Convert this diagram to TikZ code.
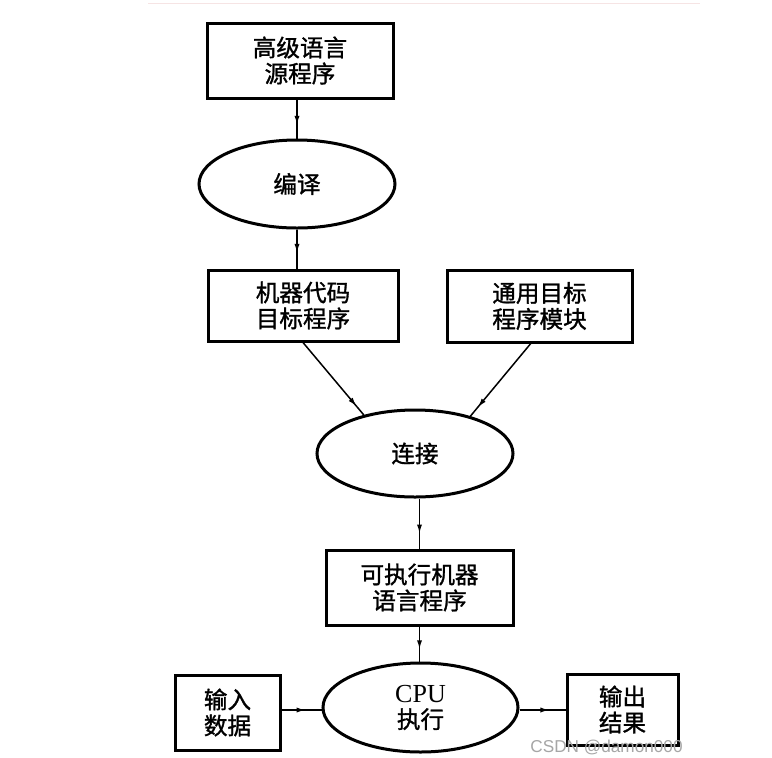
\documentclass[tikz,border=0pt]{standalone}
\usepackage{fontspec}
\setmainfont{Liberation Serif}
\newfontfamily\cjk[FakeBold=1.2]{Noto Sans CJK SC}
\newfontfamily\wmfont{Liberation Sans}
\usetikzlibrary{shapes.geometric,arrows.meta,decorations.markings}
\begin{document}
\begin{tikzpicture}[x=0.5pt,y=-0.5pt,
  boxnode/.style={draw, line width=1.5pt, rectangle, inner sep=0pt, align=center,
    font=\cjk\fontsize{11.8}{13}\selectfont},
  ellnode/.style={draw, line width=1.5pt, ellipse, inner sep=0pt, align=center,
    font=\cjk\fontsize{11.8}{13}\selectfont},
  conn/.style={line width=0.75pt},
  midarrow/.style={postaction={decorate}, decoration={markings,
    mark=at position #1 with {\arrow{Latex[length=4.5pt,width=2.6pt]}}}},
  midarrow/.default=0.6]
\useasboundingbox (0,0) rectangle (772,757);
\fill[white] (0,0) rectangle (772,757);
\draw[line width=0.5pt, color={rgb,255:red,246;green,228;blue,228}] (148,3) -- (700,3);

\node[boxnode, minimum width=93pt, minimum height=37.5pt] (src) at (300,60.5) {高级语言\\源程序};
\node[ellnode, minimum width=98pt, minimum height=44pt] (comp) at (297,184) {编译};
\node[boxnode, minimum width=95pt, minimum height=35.5pt] (obj) at (303,305.5) {机器代码\\目标程序};
\node[boxnode, minimum width=92.5pt, minimum height=36pt] (lib) at (539.5,306) {通用目标\\程序模块};
\node[ellnode, minimum width=98pt, minimum height=43.5pt] (link) at (415,453.5) {连接};
\node[boxnode, minimum width=93.5pt, minimum height=37.5pt] (exe) at (419.5,587.5) {可执行机器\\语言程序};
\node[ellnode, minimum width=97.5pt, minimum height=44.5pt] (cpu) at (420.5,707.5) {{\rmfamily\fontsize{13}{13}\selectfont CPU}\\执行};
\node[boxnode, minimum width=52.5pt, minimum height=37.5pt] (in) at (227.5,712.5) {输入\\数据};
\node[boxnode, minimum width=55.5pt, minimum height=35.5pt] (out) at (622.5,709.5) {输出\\结果};

\coordinate (row) at (0,710);
\coordinate (libfoot) at (532,342);

\draw[conn, midarrow=0.65] (src.south -| comp.north) -- (comp.north);
\draw[conn, midarrow=0.6] (comp.south) -- (comp.south |- obj.north);
\draw[conn, midarrow=0.88] (obj.south) -- (link.143);
\draw[conn, midarrow=0.88] (libfoot) -- (link.34);
\draw[conn, midarrow=0.7] (link.south -| exe.north) -- (exe.north);
\draw[conn, midarrow=0.65] (exe.south) -- (exe.south |- cpu.north);
\draw[conn, midarrow=0.6] (in.east |- row) -- (cpu.west |- row);
\draw[conn, midarrow=0.65] (cpu.east |- row) -- (out.west |- row);

\node[anchor=south west, inner sep=0pt, text=black!35, font=\wmfont\fontsize{8.6}{9}\selectfont] (wm) at (530,755) {CSDN @damon000};
\end{tikzpicture}
\end{document}
